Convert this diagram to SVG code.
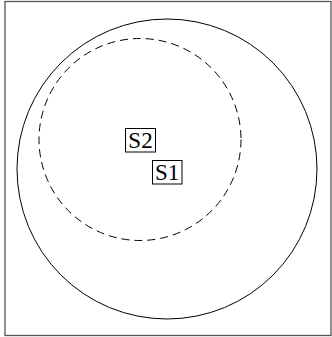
<svg xmlns="http://www.w3.org/2000/svg" width="332" height="337" viewBox="0 0 332 337">
<style>
.frame{fill:#fff;stroke:#555;stroke-width:1.3}
.circ{fill:none;stroke:#000;stroke-width:1}
.dash{fill:none;stroke:#000;stroke-width:1;stroke-dasharray:8 5}
.box{fill:#fff;stroke:#000;stroke-width:1}
.lbl{font-family:"Liberation Serif","Times New Roman",serif;font-size:23px;fill:#000;text-anchor:middle}
</style>
<rect class="frame" x="5" y="1.5" width="326" height="334"/>
<g id="outer-circle"><circle class="circ" cx="167" cy="169" r="150"/></g>
<g id="inner-circle"><circle class="dash" cx="140" cy="139.5" r="101"/></g>
<g id="S2"><rect class="box" x="125.5" y="128.5" width="30" height="23.5"/><text class="lbl" x="140.5" y="148">S2</text></g>
<g id="S1"><rect class="box" x="152.5" y="160.5" width="29.5" height="23.5"/><text class="lbl" x="167.2" y="180">S1</text></g>
<g id="connectors"></g>
</svg>
